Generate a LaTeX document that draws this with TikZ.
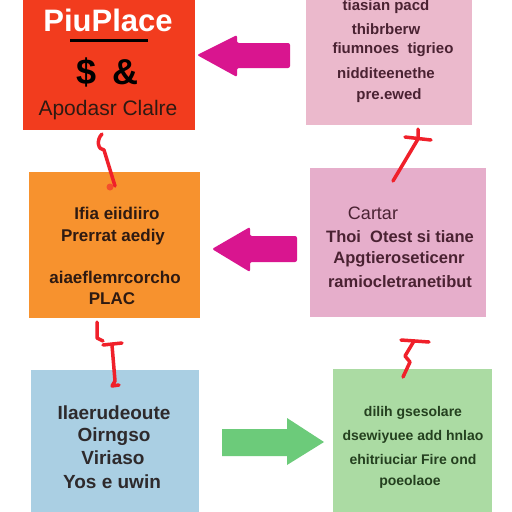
\documentclass[tikz,border=0pt]{standalone}
\usepackage{fontspec}
\setmainfont{Liberation Sans}
\definecolor{cred}{HTML}{F23C1E}
\definecolor{cpinkA}{HTML}{EBB9CC}
\definecolor{cpinkB}{HTML}{E6AECB}
\definecolor{corange}{HTML}{F7922E}
\definecolor{cblue}{HTML}{AACFE3}
\definecolor{cgreen}{HTML}{ABDBA3}
\definecolor{cmag}{HTML}{D9158F}
\definecolor{cgarrow}{HTML}{6CCB7A}
\definecolor{tmaroon}{HTML}{4A2232}
\definecolor{tdark}{HTML}{2E1A12}
\definecolor{tgray}{HTML}{2E2A2C}
\definecolor{tgreen}{HTML}{24401F}
\definecolor{cline}{HTML}{F0202A}
\begin{document}
\begin{tikzpicture}[x=1pt,y=-1pt,
  box/.style={draw=none, inner sep=0pt, outer sep=0pt},
  txt/.style={inner sep=0pt, anchor=center, font=\bfseries},
  conn/.style={draw=cline, line width=3.5pt, line cap=round, line join=round}]
\useasboundingbox (0,0) rectangle (512,512);
\fill[white] (0,0) rectangle (512,512);
% boxes
\node[box, fill=cred, minimum width=172pt, minimum height=130pt] (b1) at (109,65) {};
\node[box, fill=cpinkA, minimum width=166pt, minimum height=125pt] (b2) at (389,62.5) {};
\node[box, fill=corange, minimum width=171pt, minimum height=146pt] (b3) at (114.5,245) {};
\node[box, fill=cpinkB, minimum width=176pt, minimum height=149pt] (b4) at (398,242.5) {};
\node[box, fill=cblue, minimum width=168pt, minimum height=142pt] (b5) at (115,441) {};
\node[box, fill=cgreen, minimum width=159pt, minimum height=143pt] (b6) at (412.5,440.5) {};
% box 1 text
\node[txt, text=white, font=\bfseries\fontsize{31}{34}\selectfont] (t1a) at (108,20) {PiuPlace};
\draw[line width=3pt, black] (70,40) -- (148,40);
\node[txt, text=black, font=\bfseries\fontsize{36}{40}\selectfont] (t1b) at (108,72) {\$\, \&};
\node[txt, text=tdark, font=\fontsize{21}{24}\selectfont] (t1c) at (108,110) {Apodasr Clalre};
% box 2 text
\begin{scope}[every node/.style={txt, text=tmaroon, font=\bfseries\fontsize{15}{17}\selectfont}]
\node (t2a) at (386,7) {tiasian pacd};
\node (t2b) at (386,29) {thibrberw};
\node (t2c) at (393,50) {fiumnoes\ \ tigrieo};
\node (t2d) at (386,73) {nidditeenethe};
\node (t2e) at (389,96) {pre.ewed};
\end{scope}
% box 3 text
\begin{scope}[every node/.style={txt, text=tdark, font=\bfseries\fontsize{17}{19}\selectfont}]
\node (t3a) at (117,213) {Ifia eiidiiro};
\node (t3b) at (113,237) {Prerrat aediy};
\node (t3c) at (115,277) {aiaeflemrcorcho};
\node (t3d) at (112,299) {PLAC};
\end{scope}
% box 4 text
\begin{scope}[every node/.style={txt, text=tmaroon, font=\bfseries\fontsize{16.5}{18}\selectfont}]
\node[font=\fontsize{18}{20}\selectfont] (t4a) at (373,213) {Cartar};
\node (t4b) at (400,237) {Thoi\ \ Otest si tiane};
\node (t4c) at (399,259) {Apgtieroseticenr};
\node (t4d) at (400,282) {ramiocletranetibut};
\end{scope}
% box 5 text
\begin{scope}[every node/.style={txt, text=tgray, font=\bfseries\fontsize{19}{21}\selectfont}]
\node (t5a) at (114,413) {Ilaerudeoute};
\node (t5b) at (114,437) {Oirngso};
\node (t5c) at (113,458) {Viriaso};
\node (t5d) at (112,482) {Yos e uwin};
\end{scope}
% box 6 text
\begin{scope}[every node/.style={txt, text=tgreen, font=\bfseries\fontsize{14}{16}\selectfont}]
\node (t6a) at (413,413) {dilih gsesolare};
\node (t6b) at (413,437) {dsewiyuee add hnlao};
\node (t6c) at (413,459) {ehitriuciar Fire ond};
\node (t6d) at (410,482) {poeolaoe};
\end{scope}
% block arrows
\fill[cmag, rounded corners=2pt] (290,43) -- (237,43) -- (237,35) -- (197,55) -- (237,77) -- (237,68) -- (290,68) -- cycle;
\fill[cmag, rounded corners=2pt] (297,236) -- (250,236) -- (250,227) -- (212,249) -- (250,272) -- (250,262) -- (297,262) -- cycle;
\fill[cgarrow] (222,429) -- (287,429) -- (287,418) -- (324,442) -- (287,465) -- (287,456) -- (222,456) -- cycle;
% red hooks (connectors)
\draw[conn] (102,134) .. controls (96,140) and (98,150) .. (104,150) -- (115,186);
\fill[cline!60!corange] (110,187) circle (3.5pt);
\draw[conn] (405,137) -- (431,140);
\draw[conn] (418,129) -- (418,139) -- (393,181);
\draw[conn] (97,322) -- (97,338) -- (103,341);
\draw[conn] (103,345) -- (122,343);
\draw[conn] (112,345) -- (115,381) -- (112,386) -- (119,385);
\draw[conn] (401,340) -- (429,342);
\draw[conn] (414,341) -- (405,356) -- (410,362) -- (403,377);
\end{tikzpicture}
\end{document}
